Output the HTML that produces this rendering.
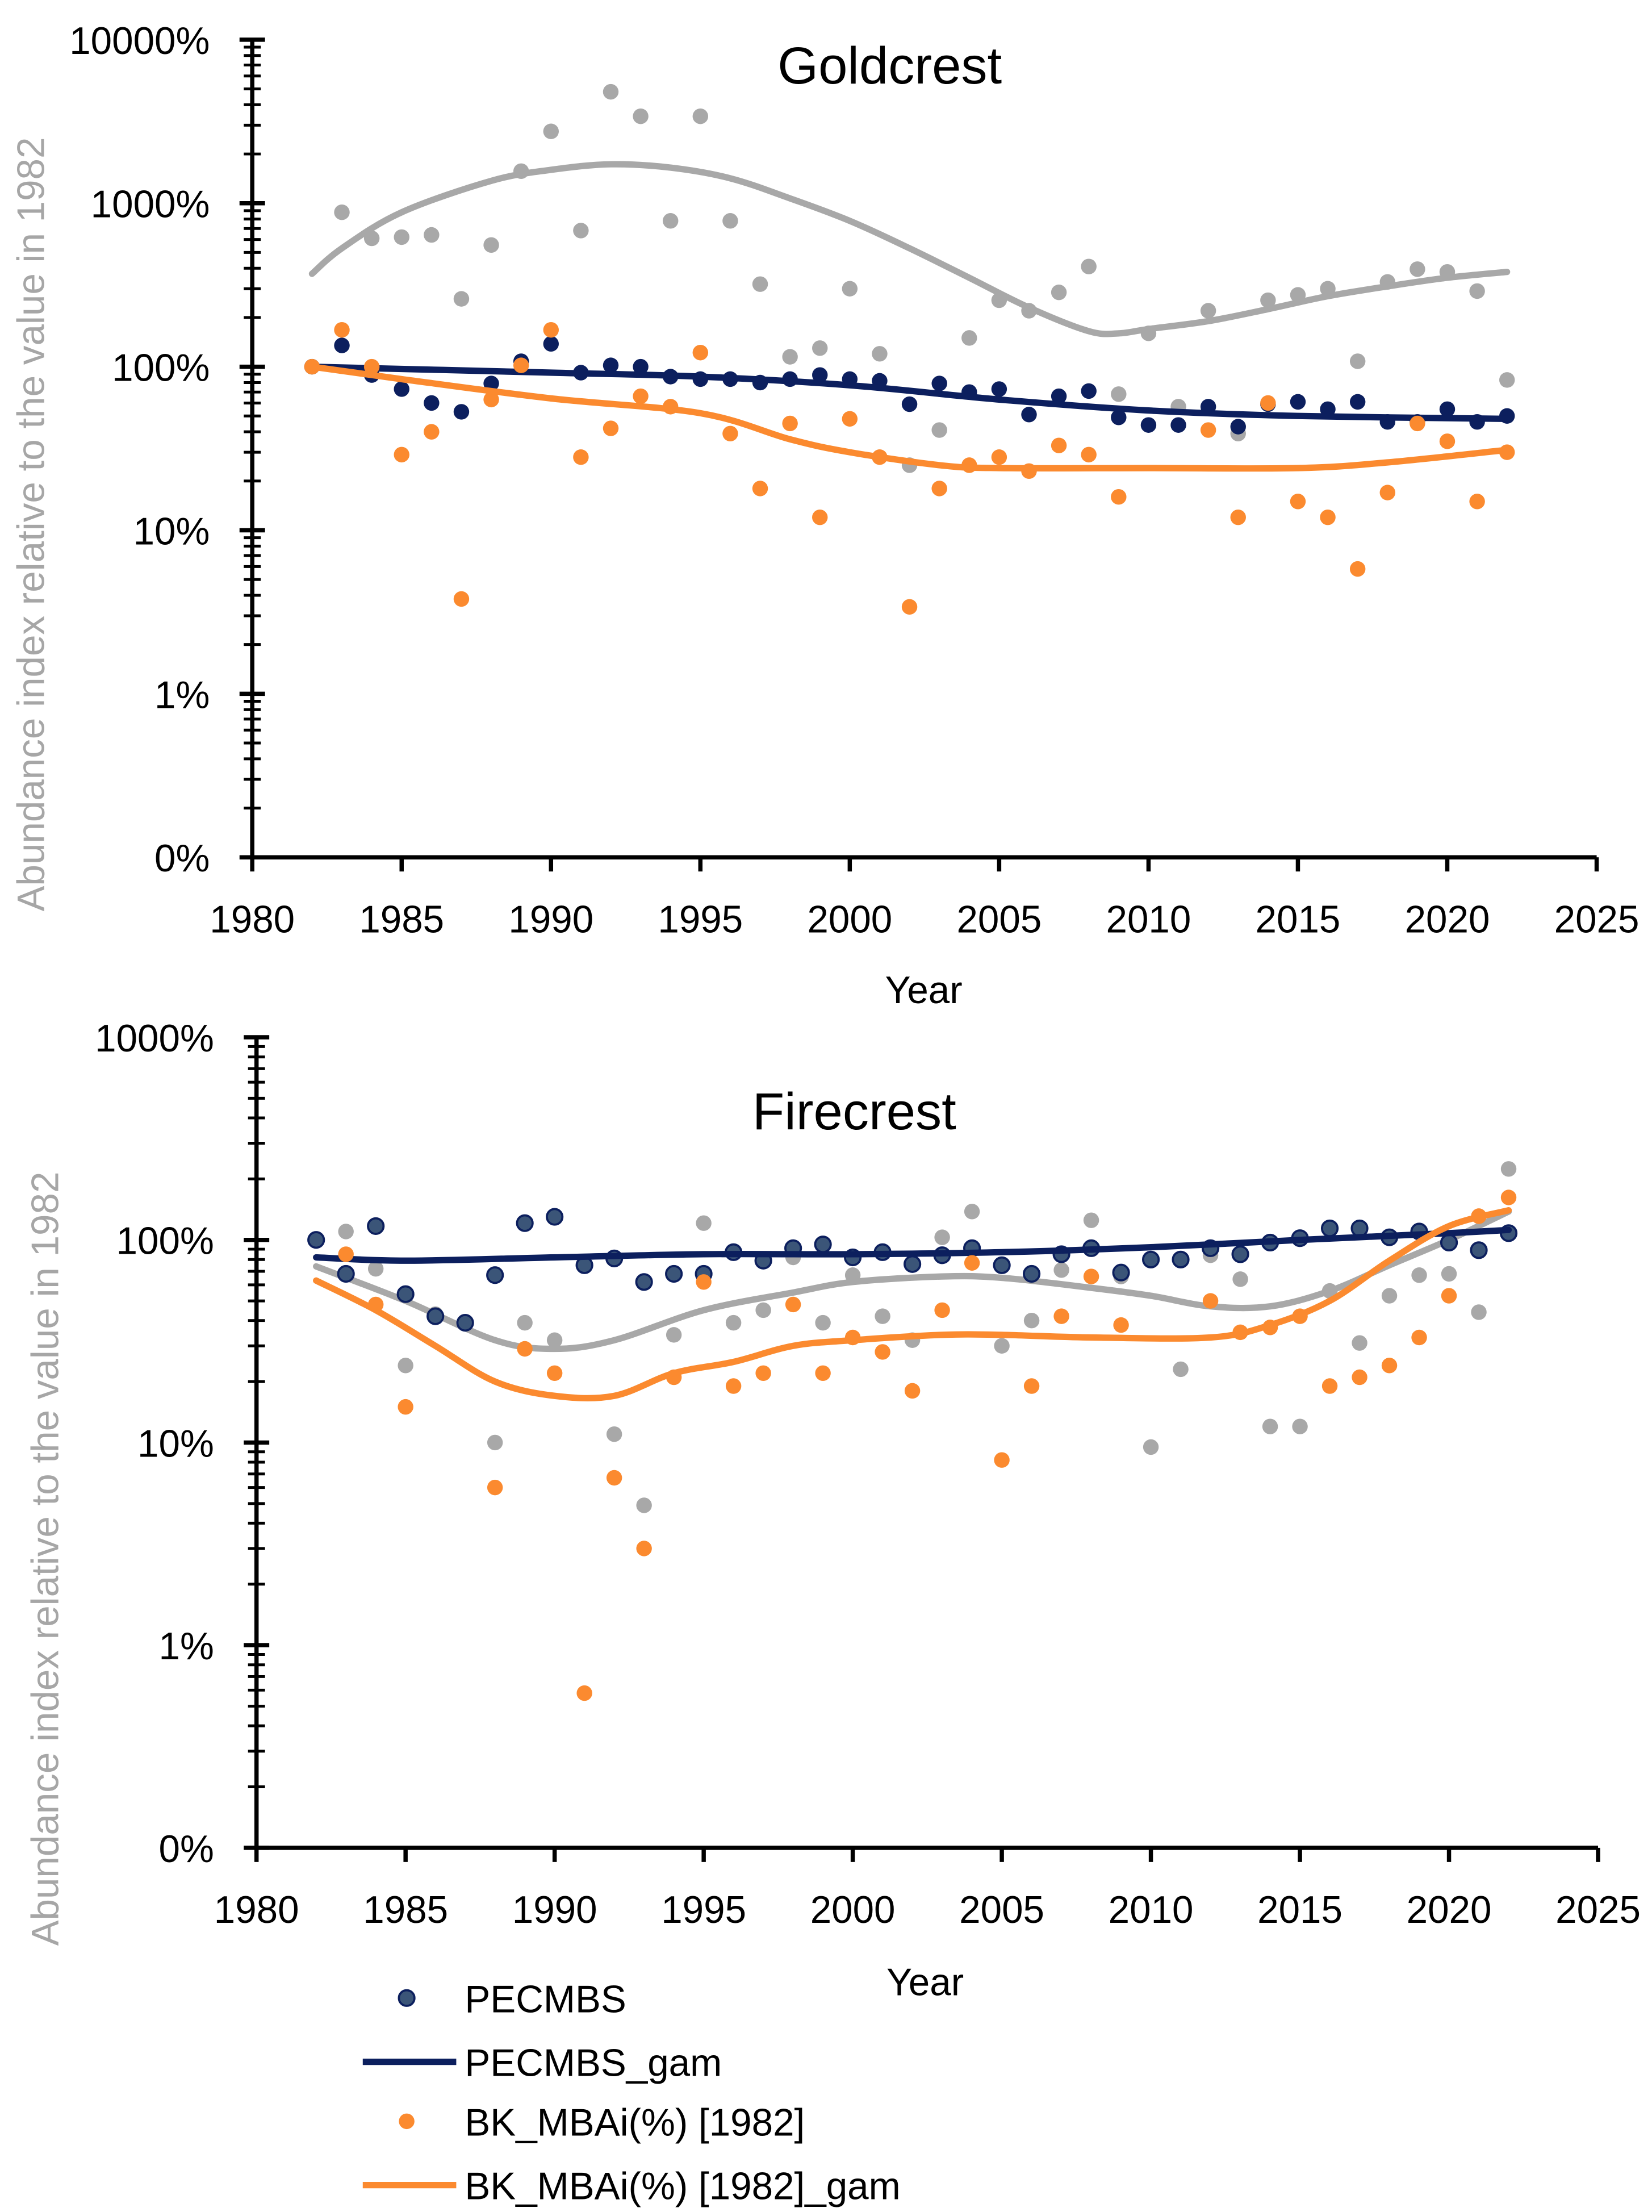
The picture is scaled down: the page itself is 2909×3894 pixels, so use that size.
<!DOCTYPE html>
<html><head><meta charset="utf-8"><style>
html,body{margin:0;padding:0;background:#fff}
svg{display:block}
text{font-family:"Liberation Sans",sans-serif}
</style></head><body>
<svg id="chart" width="2909" height="3894" viewBox="0 0 1166 1561" xmlns="http://www.w3.org/2000/svg"></svg>
<script>
const years = [];for(let y=1982;y<=2022;y++)years.push(y);
const xTicks=[1980,1985,1990,1995,2000,2005,2010,2015,2020,2025];
const xTickLabels=["1980","1985","1990","1995","2000","2005","2010","2015","2020","2025"];
const gcTickLabels=["0%","1%","10%","100%","1000%","10000%"];
const fcTickLabels=["0%","1%","10%","100%","1000%"];

// Goldcrest
const gcGray=[100,880,610,620,640,260,555,1570,2750,680,4800,3400,780,3400,780,320,115,130,300,120,25,41,150,255,220,285,410,68,160,57,220,39,255,275,300,108,330,395,380,290,83];
const gcNavy=[100,135,89,73,60,53,79,108,138,92,102,100,87,84,84,80,84,89,84,82,59,79,70,73,51,66,71,49,44,44,57,43,59,61,55,61,46,46,55,46,50];
const gcOrange=[100,168,100,29,40,3.8,63,102,168,28,42,66,57,122,39,18,45,12,48,28,3.4,18,25,28,23,33,29,16,null,null,41,12,60,15,12,5.8,17,45,35,15,30];
const gcGrayGamYears=[1982,1983,1985,1988,1990,1992,1994,1996,1998,2000,2002,2004,2006,2008,2009,2010,2012,2014,2016,2018,2020,2022];
const gcGrayGam=[370,530,880,1370,1600,1730,1650,1420,1070,780,530,350,230,165,160,170,190,225,270,310,350,380];
const gcNavyGamYears=[1982,1990,1995,2000,2005,2010,2015,2022];
const gcNavyGam=[100,92,87,77,63,54,50,48];
const gcOrangeGamYears=[1982,1985,1990,1995,1998,2000,2003,2005,2010,2015,2018,2022];
const gcOrangeGam=[100,84,64,52,36,30,25,24,24,24,26,31];

// Firecrest
const fcGray=[100,110,72,24,43,39,10,39,32,75,11,4.9,34,121,39,45,82,39,67,42,32,103,138,30,40,71,125,66,9.5,23,84,64,12,12,56,31,53,67,68,44,224];
const fcNavy=[100,68,117,54,42,39,67,121,130,75,81,62,68,68,87,79,91,95,82,87,76,84,91,75,68,85,91,69,80,80,91,85,97,102,114,114,103,110,97,89,108];
const fcOrange=[null,85,48,15,null,null,6,29,22,0.58,6.7,3,21,62,19,22,48,22,33,28,18,45,77,8.2,19,42,66,38,null,null,50,35,37,42,19,21,24,33,53,131,162];
const fcNavyGamYears=[1982,1985,1990,1995,2000,2005,2010,2015,2020,2022];
const fcNavyGam=[82,79,82,85,85,87,92,100,108,112];
const fcGrayGamYears=[1982,1985,1988,1990,1992,1995,1998,2000,2003,2005,2008,2010,2012,2014,2016,2018,2020,2022];
const fcGrayGam=[74,50,32,29,32,45,55,62,66,65,58,53,47,47,56,75,100,138];
const fcOrangeGamYears=[1982,1984,1986,1988,1990,1992,1994,1996,1998,2000,2003,2005,2008,2012,2014,2016,2018,2020,2022];
const fcOrangeGam=[63,45,30,20,17,17,22,25,30,32,34,34,33,33,38,50,79,117,140];

const NS="http://www.w3.org/2000/svg";
const svg=document.getElementById('chart');
function el(tag,attrs,parent){const e=document.createElementNS(NS,tag);for(const k in attrs)e.setAttribute(k,attrs[k]);(parent||svg).appendChild(e);return e;}
const NAVY="#0c1f5e",ORANGE="#fb8a2f",GRAY="#a8a8a8";

function smoothPath(pts){
  let d=`M${pts[0][0]},${pts[0][1]}`;
  for(let i=0;i<pts.length-1;i++){
    const p0=pts[Math.max(0,i-1)],p1=pts[i],p2=pts[i+1],p3=pts[Math.min(pts.length-1,i+2)];
    const c1=[p1[0]+(p2[0]-p0[0])/6,p1[1]+(p2[1]-p0[1])/6];
    const c2=[p2[0]-(p3[0]-p1[0])/6,p2[1]-(p3[1]-p1[1])/6];
    d+=` C${c1[0]},${c1[1]} ${c2[0]},${c2[1]} ${p2[0]},${p2[1]}`;
  }
  return d;
}

function panel(cfg){
  const g=el('g',{});
  
  
  const xS=v=>cfg.x0+(v-1980)*(cfg.x1-cfg.x0)/45;
  const yS=v=>cfg.yBase-(Math.log10(v)+1)*cfg.dec; // 0.1% at yBase
  const topY=cfg.yBase-cfg.decades*cfg.dec;
  // y axis
  const ya=el('line',{x1:cfg.x0,y1:topY,x2:cfg.x0,y2:cfg.yBase,stroke:'#000','stroke-width':3},g);
  
  for(let d=0;d<cfg.decades;d++){
    for(let m=1;m<=9;m++){
      const yy=cfg.yBase-(d+Math.log10(m))*cfg.dec;
      const len=m===1?9:6;
      el('line',{x1:cfg.x0-len,y1:yy,x2:cfg.x0+len,y2:yy,stroke:'#000','stroke-width':m===1?3:2},g);
    }
  }
  el('line',{x1:cfg.x0-9,y1:topY,x2:cfg.x0+9,y2:topY,stroke:'#000','stroke-width':3},g);
  cfg.ylabels.forEach((lab,i)=>{
    const t=el('text',{x:cfg.x0-30,y:cfg.yBase-i*cfg.dec+10,'text-anchor':'end','font-size':27,fill:'#000'},g);
    t.textContent=lab;
  });
  // x axis
  const xa=el('line',{x1:cfg.x0,y1:cfg.yBase,x2:cfg.x1,y2:cfg.yBase,stroke:'#000','stroke-width':3},g);
  
  xTicks.forEach((v,i)=>{
    el('line',{x1:xS(v),y1:cfg.yBase,x2:xS(v),y2:cfg.yBase+10,stroke:'#000','stroke-width':3},g);
    const t=el('text',{x:xS(v),y:cfg.yBase+53,'text-anchor':'middle','font-size':27,fill:'#000'},g);
    t.textContent=xTickLabels[i];
  });
  const xt=el('text',{x:cfg.yearX,y:cfg.yearY,'text-anchor':'middle','font-size':27,fill:'#000'},g);
  xt.textContent='Year';
  const tt=el('text',{x:cfg.titleX,y:cfg.titleY,'text-anchor':'middle','font-size':37,fill:'#000'},g);
  tt.textContent=cfg.title;
  const yt=el('text',{x:0,y:0,'text-anchor':'middle','font-size':27,fill:'#a6a6a6',transform:`translate(${cfg.ytX},${cfg.ytY}) rotate(-90)`},g);
  yt.textContent='Abundance index relative to the value in 1982';
  // series
  function gam(ys,vs,color,name){
    const p=el('path',{d:smoothPath(ys.map((y,i)=>[xS(y),yS(vs[i])])),fill:'none',stroke:color,'stroke-width':4.5,'stroke-linecap':'round'},g);
    
  }
  function pts(vs,color,name,stroke){
    vs.forEach((v,i)=>{
      if(v==null)return;
      const c=el('circle',{cx:xS(years[i]),cy:yS(v),r:5.5,fill:color},g);
      if(stroke){c.setAttribute('stroke',stroke);c.setAttribute('stroke-width',1.5);}
      
    });
  }
  gam(cfg.grayGamY,cfg.grayGam,GRAY,'gray-gam-line');
  pts(cfg.gray,GRAY,'gray-point');
  pts(cfg.navy,cfg.navyFill,'pecmbs-point',cfg.navyStroke);
  gam(cfg.navyGamY,cfg.navyGam,NAVY,'pecmbs-gam-line');
  pts(cfg.orange,ORANGE,'bk-mbai-point');
  gam(cfg.orangeGamY,cfg.orangeGam,ORANGE,'bk-mbai-gam-line');
}

panel({name:'goldcrest-panel',x0:178,x1:1127,yBase:605,dec:115.4,decades:5,ylabels:gcTickLabels,
  yearX:652,yearY:708,title:'Goldcrest',titleX:628,titleY:59,ytX:31,ytY:370,
  gray:gcGray,navy:gcNavy,orange:gcOrange,navyFill:NAVY,navyStroke:null,
  grayGamY:gcGrayGamYears,grayGam:gcGrayGam,navyGamY:gcNavyGamYears,navyGam:gcNavyGam,orangeGamY:gcOrangeGamYears,orangeGam:gcOrangeGam});
panel({name:'firecrest-panel',x0:181,x1:1128,yBase:1304,dec:143,decades:4,ylabels:fcTickLabels,
  yearX:653,yearY:1408,title:'Firecrest',titleX:603,titleY:797,ytX:41,ytY:1100,
  gray:fcGray,navy:fcNavy,orange:fcOrange,navyFill:'#3b5578',navyStroke:'#0c1f5e',
  grayGamY:fcGrayGamYears,grayGam:fcGrayGam,navyGamY:fcNavyGamYears,navyGam:fcNavyGam,orangeGamY:fcOrangeGamYears,orangeGam:fcOrangeGam});

// legend
const lg=el('g',{});

const items=[['dot','#3b5578','PECMBS',1410],['line',NAVY,'PECMBS_gam',1455],['dot',ORANGE,'BK_MBAi(%) [1982]',1497],['line',ORANGE,'BK_MBAi(%) [1982]_gam',1542]];
items.forEach(it=>{
  const e=el('g',{},lg);
  
  if(it[0]==='dot'){const c=el('circle',{cx:287,cy:it[3],r:5.5,fill:it[1]},e);if(it[2]==='PECMBS'){c.setAttribute('stroke',NAVY);c.setAttribute('stroke-width',1.5);}}
  else el('line',{x1:256,y1:it[3],x2:322,y2:it[3],stroke:it[1],'stroke-width':4.5},e);
  const t=el('text',{x:328,y:it[3]+10,'font-size':27,fill:'#000'},e);t.textContent=it[2];
});
</script>
</body></html>
